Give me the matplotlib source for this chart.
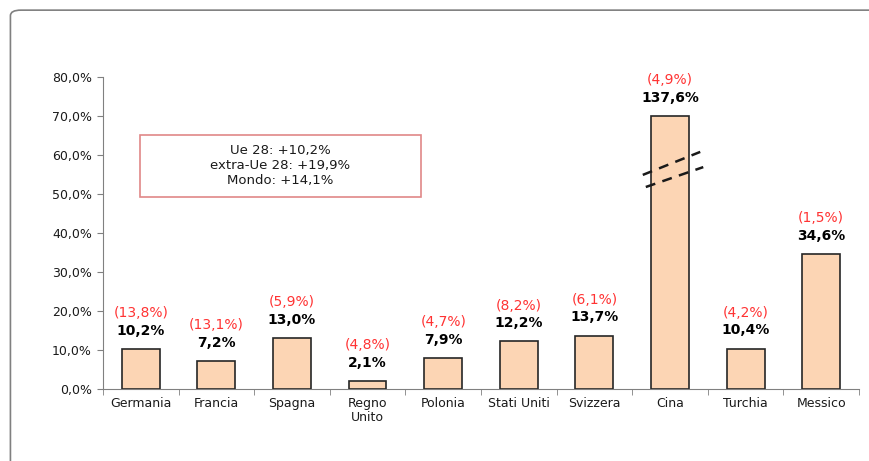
import numpy as np
import matplotlib.pyplot as plt
from matplotlib.patches import FancyBboxPatch, Rectangle
from matplotlib.ticker import FuncFormatter

paesi = ['Germania', 'Francia', 'Spagna', 'Regno\nUnito', 'Polonia',
         'Stati Uniti', 'Svizzera', 'Cina', 'Turchia', 'Messico']
variazione = [10.2, 7.2, 13.0, 2.1, 7.9, 12.2, 13.7, 137.6, 10.4, 34.6]
quota = [13.8, 13.1, 5.9, 4.8, 4.7, 8.2, 6.1, 4.9, 4.2, 1.5]
riepilogo = ['Ue 28: +10,2%', 'extra-Ue 28: +19,9%', 'Mondo: +14,1%']
tetto = 70.0  # Cina bar is cut at this height

plt.rcParams['font.family'] = 'DejaVu Sans'

fig = plt.figure(figsize=(8.69, 4.61), dpi=100)
# outer frame with rounded corner
frame = FancyBboxPatch((0.012, -0.05), 1.2, 1.028, boxstyle='round,pad=0,rounding_size=0.012',
                       transform=fig.transFigure, fill=False, edgecolor='#808080', lw=1.2)
fig.patches.append(frame)

ax = fig.add_axes([0.1185, 0.156, 0.87, 0.677])
x = np.arange(len(paesi))
altezze = [min(v, tetto) for v in variazione]
ax.bar(x, altezze, width=0.5, color='#fcd5b4', edgecolor='#262626', lw=1.2, zorder=2)

def pct(v):
    return f'{v:.1f}%'.replace('.', ',')

for xi, h, v, q in zip(x, altezze, variazione, quota):
    ax.text(xi, h + 2.9, pct(v), ha='center', va='bottom', fontsize=10,
            fontweight='bold', color='black')
    ax.text(xi, h + 7.4, '(' + pct(q) + ')', ha='center', va='bottom',
            fontsize=10, color='#ff3333')

# break marks on Cina bar
ax.plot([6.64, 7.40], [54.9, 60.8], ls=(0, (4, 3)), color='#1a1a1a', lw=1.8, zorder=3)
ax.plot([6.68, 7.44], [51.8, 56.9], ls=(0, (4, 3)), color='#1a1a1a', lw=1.8, zorder=3)

# summary box
ax.add_patch(Rectangle((-0.01, 49.2), 3.72, 15.9, fc='white', ec='#e08888', lw=1.2, zorder=3))
ax.text(1.84, 57.2, '\n'.join(riepilogo), ha='center', va='center', fontsize=9.5,
        color='#1a1a1a', linespacing=1.2, zorder=4)

ax.set_xlim(-0.5, len(paesi) - 0.5)
ax.set_ylim(0, 80)
ax.set_yticks(np.arange(0, 81, 10))
ax.yaxis.set_major_formatter(FuncFormatter(lambda v, p: pct(v)))
ax.set_xticks(x)
ax.set_xticklabels(paesi, fontsize=9, color='#1a1a1a', linespacing=1.1)
ax.set_xticks(np.arange(-0.5, len(paesi)), minor=True)
ax.tick_params(axis='x', which='major', length=0, pad=6)
ax.tick_params(axis='x', which='minor', length=4, color='#808080')
ax.tick_params(axis='y', length=4, color='#808080', labelsize=9, labelcolor='#1a1a1a', pad=4)
for s in ['top', 'right']:
    ax.spines[s].set_visible(False)
for s in ['left', 'bottom']:
    ax.spines[s].set_color('#808080')

fig.savefig('out.png', dpi=100)
